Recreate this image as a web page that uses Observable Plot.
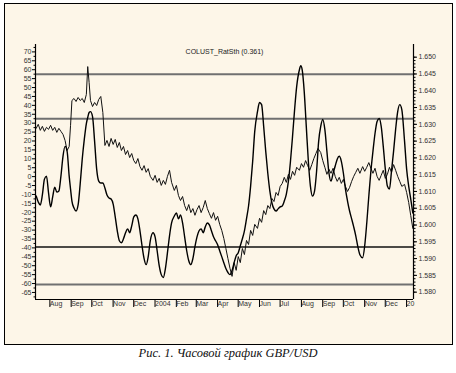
<!DOCTYPE html>
<html><head><meta charset="utf-8">
<script src="https://cdn.jsdelivr.net/npm/d3@7"></script>
<script src="https://cdn.jsdelivr.net/npm/@observablehq/plot@0.6"></script>
<style>
html,body{margin:0;padding:0;background:#fff;}
#wrap{position:relative;width:456px;height:373px;overflow:hidden;}
#frame{position:absolute;left:4px;top:3px;width:449px;height:342px;border:1.5px solid #000;background:#fdf6e8;box-sizing:border-box;}
#chart{position:absolute;left:0;top:0;}
#caption{position:absolute;left:0;width:456px;top:346px;text-align:center;font:italic 12.5px "Liberation Serif","DejaVu Serif",serif;color:#111;}
</style></head>
<body>
<div id="wrap"><div id="frame"></div><div id="chart"></div><div id="caption"></div></div>
<script>
const titleText = "COLUST_RatSth (0.361)";
const captionText = "Рис. 1. Часовой график GBP/USD";

// GBP/USD price (right axis)
const price = [
["2003-07-15",1.6288],["2003-07-18",1.6300],["2003-07-21",1.6282],["2003-07-24",1.6294],["2003-07-27",1.6279],["2003-07-30",1.6291],
["2003-08-02",1.6285],["2003-08-05",1.6297],["2003-08-08",1.6282],["2003-08-11",1.6291],["2003-08-14",1.6276],["2003-08-17",1.6288],["2003-08-20",1.6279],["2003-08-23",1.6270],["2003-08-26",1.6252],["2003-08-29",1.6222],
["2003-09-01",1.6234],["2003-09-03",1.6297],["2003-09-05",1.6371],["2003-09-08",1.6377],["2003-09-11",1.6368],["2003-09-14",1.6380],["2003-09-17",1.6371],["2003-09-20",1.6377],["2003-09-23",1.6365],["2003-09-26",1.6389],["2003-09-28",1.6472],["2003-09-30",1.6425],
["2003-10-02",1.6371],["2003-10-05",1.6353],["2003-10-08",1.6365],["2003-10-11",1.6356],["2003-10-14",1.6374],["2003-10-17",1.6383],["2003-10-20",1.6335],["2003-10-23",1.6237],["2003-10-26",1.6252],["2003-10-29",1.6234],
["2003-11-01",1.6258],["2003-11-04",1.6240],["2003-11-07",1.6255],["2003-11-10",1.6231],["2003-11-13",1.6246],["2003-11-16",1.6222],["2003-11-19",1.6234],["2003-11-22",1.6210],["2003-11-25",1.6222],["2003-11-28",1.6201],
["2003-12-01",1.6213],["2003-12-04",1.6192],["2003-12-07",1.6183],["2003-12-10",1.6198],["2003-12-13",1.6174],["2003-12-16",1.6163],["2003-12-19",1.6177],["2003-12-22",1.6157],["2003-12-25",1.6168],["2003-12-28",1.6145],
["2004-01-01",1.6133],["2004-01-04",1.6148],["2004-01-07",1.6127],["2004-01-10",1.6139],["2004-01-13",1.6118],["2004-01-16",1.6133],["2004-01-19",1.6121],["2004-01-22",1.6145],["2004-01-25",1.6163],["2004-01-28",1.6127],
["2004-02-01",1.6103],["2004-02-04",1.6118],["2004-02-07",1.6088],["2004-02-10",1.6073],["2004-02-13",1.6085],["2004-02-16",1.6058],["2004-02-19",1.6043],["2004-02-22",1.6061],["2004-02-25",1.6037],["2004-02-28",1.6049],
["2004-03-02",1.6029],["2004-03-05",1.6046],["2004-03-08",1.6058],["2004-03-11",1.6037],["2004-03-14",1.6052],["2004-03-17",1.6073],["2004-03-20",1.6049],["2004-03-23",1.6034],["2004-03-26",1.6020],["2004-03-29",1.6037],
["2004-04-01",1.6014],["2004-04-04",1.6026],["2004-04-07",1.6002],["2004-04-10",1.5984],["2004-04-13",1.5960],["2004-04-16",1.5930],["2004-04-19",1.5900],["2004-04-22",1.5871],["2004-04-25",1.5847],["2004-04-28",1.5888],
["2004-05-01",1.5865],["2004-05-04",1.5906],["2004-05-07",1.5888],["2004-05-10",1.5930],["2004-05-13",1.5912],["2004-05-16",1.5954],["2004-05-19",1.5942],["2004-05-22",1.5984],["2004-05-25",1.5969],["2004-05-28",1.6002],
["2004-06-01",1.5990],["2004-06-04",1.6020],["2004-06-07",1.6008],["2004-06-10",1.6043],["2004-06-13",1.6031],["2004-06-16",1.6058],["2004-06-19",1.6049],["2004-06-22",1.6079],["2004-06-25",1.6070],["2004-06-28",1.6097],
["2004-07-01",1.6088],["2004-07-04",1.6115],["2004-07-07",1.6124],["2004-07-10",1.6142],["2004-07-13",1.6127],["2004-07-16",1.6151],["2004-07-19",1.6136],["2004-07-22",1.6160],["2004-07-25",1.6148],["2004-07-28",1.6172],
["2004-08-01",1.6163],["2004-08-04",1.6183],["2004-08-07",1.6172],["2004-08-10",1.6192],["2004-08-13",1.6177],["2004-08-16",1.6163],["2004-08-19",1.6180],["2004-08-22",1.6198],["2004-08-25",1.6213],["2004-08-28",1.6228],
["2004-09-01",1.6216],["2004-09-04",1.6192],["2004-09-07",1.6172],["2004-09-10",1.6151],["2004-09-13",1.6166],["2004-09-16",1.6154],["2004-09-19",1.6169],["2004-09-22",1.6145],["2004-09-25",1.6130],["2004-09-28",1.6142],
["2004-10-01",1.6124],["2004-10-04",1.6136],["2004-10-07",1.6115],["2004-10-10",1.6100],["2004-10-13",1.6112],["2004-10-16",1.6130],["2004-10-19",1.6145],["2004-10-22",1.6157],["2004-10-25",1.6169],["2004-10-28",1.6154],
["2004-11-01",1.6174],["2004-11-04",1.6160],["2004-11-07",1.6172],["2004-11-10",1.6186],["2004-11-13",1.6169],["2004-11-16",1.6154],["2004-11-19",1.6169],["2004-11-22",1.6145],["2004-11-25",1.6133],["2004-11-28",1.6148],
["2004-12-01",1.6163],["2004-12-04",1.6139],["2004-12-07",1.6151],["2004-12-10",1.6172],["2004-12-13",1.6157],["2004-12-16",1.6180],["2004-12-19",1.6163],["2004-12-22",1.6145],["2004-12-25",1.6130],["2004-12-28",1.6115],
["2005-01-01",1.6121],["2005-01-04",1.6097],["2005-01-07",1.6067],["2005-01-10",1.6028],["2005-01-13",1.5990]
];

// Oscillator (left axis)
const osc = [
["2003-07-15",-10.9],["2003-07-18",-14.2],["2003-07-21",-15.9],["2003-07-24",-10.3],["2003-07-27",-1.4],["2003-07-30",0.3],
["2003-08-02",-9.2],["2003-08-05",-17.0],["2003-08-08",-11.4],["2003-08-11",-5.9],["2003-08-14",-8.7],["2003-08-17",-8.1],["2003-08-20",0.3],["2003-08-23",11.4],["2003-08-26",17.0],["2003-08-29",14.2],
["2003-09-01",0.3],["2003-09-03",-7.0],["2003-09-05",-13.7],["2003-09-08",-17.6],["2003-09-11",-19.3],["2003-09-14",-15.9],["2003-09-17",-4.2],["2003-09-20",9.8],["2003-09-23",20.9],["2003-09-26",29.8],["2003-09-28",33.2],["2003-09-30",36.0],
["2003-10-02",36.5],["2003-10-05",33.7],["2003-10-08",19.8],["2003-10-11",4.2],["2003-10-14",-2.5],["2003-10-17",-3.6],["2003-10-20",-3.6],["2003-10-23",-6.4],["2003-10-26",-10.3],["2003-10-29",-12.0],
["2003-11-01",-12.6],["2003-11-04",-15.4],["2003-11-07",-22.6],["2003-11-10",-30.4],["2003-11-13",-36.0],["2003-11-16",-37.1],["2003-11-19",-34.9],["2003-11-22",-31.5],["2003-11-25",-29.3],["2003-11-28",-31.5],
["2003-12-01",-27.6],["2003-12-04",-22.6],["2003-12-07",-21.5],["2003-12-10",-23.7],["2003-12-13",-30.4],["2003-12-16",-38.8],["2003-12-19",-46.0],["2003-12-22",-49.4],["2003-12-25",-44.9],["2003-12-28",-36.0],
["2004-01-01",-31.5],["2004-01-04",-33.8],["2004-01-07",-41.6],["2004-01-10",-49.9],["2004-01-13",-55.0],["2004-01-16",-56.6],["2004-01-19",-51.6],["2004-01-22",-42.7],["2004-01-25",-33.2],["2004-01-28",-26.0],
["2004-02-01",-22.1],["2004-02-04",-20.4],["2004-02-07",-23.7],["2004-02-10",-21.5],["2004-02-13",-26.0],["2004-02-16",-33.8],["2004-02-19",-41.6],["2004-02-22",-47.2],["2004-02-25",-49.4],["2004-02-28",-46.0],
["2004-03-02",-39.3],["2004-03-05",-33.8],["2004-03-08",-30.4],["2004-03-11",-29.3],["2004-03-14",-31.5],["2004-03-17",-28.2],["2004-03-20",-26.0],["2004-03-23",-27.1],["2004-03-26",-30.4],["2004-03-29",-33.8],
["2004-04-01",-36.0],["2004-04-04",-38.2],["2004-04-07",-41.6],["2004-04-10",-44.9],["2004-04-13",-48.3],["2004-04-16",-51.6],["2004-04-19",-53.8],["2004-04-22",-55.0],["2004-04-25",-52.7],["2004-04-28",-48.3],
["2004-05-01",-44.4],["2004-05-04",-42.7],["2004-05-07",-38.8],["2004-05-10",-34.9],["2004-05-13",-30.4],["2004-05-16",-23.7],["2004-05-19",-16.5],["2004-05-22",-5.3],["2004-05-25",8.6],["2004-05-28",25.4],
["2004-06-01",36.5],["2004-06-04",41.6],["2004-06-07",40.4],["2004-06-10",28.2],["2004-06-13",14.2],["2004-06-16",1.9],["2004-06-19",-8.1],["2004-06-22",-14.8],["2004-06-25",-18.1],["2004-06-28",-19.3],
["2004-07-01",-18.1],["2004-07-04",-17.0],["2004-07-07",-16.5],["2004-07-10",-13.7],["2004-07-13",-9.8],["2004-07-16",-2.5],["2004-07-19",8.6],["2004-07-22",22.6],["2004-07-25",37.6],["2004-07-28",50.5],
["2004-08-01",60.0],["2004-08-03",62.2],["2004-08-05",60.0],["2004-08-08",47.7],["2004-08-11",28.2],["2004-08-14",8.6],["2004-08-17",-5.3],["2004-08-20",-10.9],["2004-08-23",-8.1],["2004-08-26",3.1],["2004-08-29",19.8],
["2004-09-01",28.2],["2004-09-04",32.1],["2004-09-07",26.5],["2004-09-10",14.2],["2004-09-13",1.9],["2004-09-16",-2.5],["2004-09-19",1.9],["2004-09-22",5.8],["2004-09-25",9.8],["2004-09-28",11.4],
["2004-10-01",8.6],["2004-10-04",1.9],["2004-10-07",-7.0],["2004-10-10",-13.7],["2004-10-13",-19.3],["2004-10-16",-23.7],["2004-10-19",-28.2],["2004-10-22",-33.2],["2004-10-25",-39.3],["2004-10-28",-43.8],
["2004-11-01",-45.5],["2004-11-04",-38.8],["2004-11-07",-26.0],["2004-11-10",-10.9],["2004-11-13",3.1],["2004-11-16",14.2],["2004-11-19",24.2],["2004-11-22",30.9],["2004-11-25",32.6],["2004-11-28",28.2],
["2004-12-01",17.0],["2004-12-04",4.2],["2004-12-07",-5.3],["2004-12-10",-7.0],["2004-12-13",3.1],["2004-12-16",14.2],["2004-12-19",26.5],["2004-12-22",36.5],["2004-12-25",40.4],["2004-12-28",37.6],
["2005-01-01",19.8],["2005-01-04",4.2],["2005-01-07",-5.3],["2005-01-10",-12.6],["2005-01-13",-20.4]
];

const grayLevels = [57.5, 32.5, -60.5];
const blackLevels = [-39.5];
const leftTicks = [70,65,60,55,50,45,40,35,30,25,20,15,10,5,0,-5,-10,-15,-20,-25,-30,-35,-40,-45,-50,-55,-60,-65];
const rightTicks = [1.650,1.645,1.640,1.635,1.630,1.625,1.620,1.615,1.610,1.605,1.600,1.595,1.590,1.585,1.580];
const monthTickDates = ["2003-08-01","2003-09-01","2003-10-01","2003-11-01","2003-12-01","2004-01-01","2004-02-01","2004-03-01","2004-04-01","2004-05-01","2004-06-01","2004-07-01","2004-08-01","2004-09-01","2004-10-01","2004-11-01","2004-12-01","2005-01-01"];
const monthTickLabels = ["Aug","Sep","Oct","Nov","Dec","2004","Feb","Mar","Apr","May","Jun","Jul","Aug","Sep","Oct","Nov","Dec","20"];

// price -> oscillator-axis units (both axes share the plot's height)
const toV = p => 67.03 - (1.650 - p) * 1883.8;
const fromV = v => 1.650 - (67.03 - v) / 1883.8;

const priceRows = price.map(([d, p]) => ({date: new Date(d), v: toV(p)}));
const oscRows = osc.map(([d, v]) => ({date: new Date(d), v}));
const tickDates = monthTickDates.map(d => new Date(d));
const labelMap = new Map(tickDates.map((d, i) => [+d, monthTickLabels[i]]));
const minorLeft = d3.range(-67.5, 72.6, 2.5).filter(v => !leftTicks.includes(v));
const minorRight = d3.range(1.580, 1.6505, 0.001).map(toV);
const xStart = new Date("2003-07-14"), xEnd = new Date("2005-01-14");

const chart = Plot.plot({
  width: 456, height: 345,
  marginLeft: 35, marginRight: 43, marginTop: 44, marginBottom: 46,
  style: {fontFamily: "'Liberation Sans', Arial, sans-serif", fontSize: "7px", background: "transparent", color: "#333"},
  x: {type: "utc", domain: [xStart, xEnd], axis: null},
  y: {domain: [-68.96, 74.15], axis: null},
  marks: [
    Plot.ruleY(grayLevels, {stroke: "#707070", strokeWidth: 2}),
    Plot.ruleY(blackLevels, {stroke: "#111", strokeWidth: 1.6}),
    Plot.line(priceRows, {x: "date", y: "v", stroke: "#111", strokeWidth: 1}),
    Plot.line(oscRows, {x: "date", y: "v", stroke: "#000", strokeWidth: 1.4, curve: "monotone-x"}),
    Plot.axisY(leftTicks, {anchor: "left", label: null, tickSize: 3, tickPadding: 1, tickFormat: d => String(d), stroke: "#000"}),
    Plot.axisY(minorLeft, {anchor: "left", label: null, tickSize: 1.5, tickFormat: () => "", stroke: "#000"}),
    Plot.axisY(rightTicks.map(toV), {anchor: "right", label: null, tickSize: 3, tickPadding: 2, tickFormat: v => fromV(v).toFixed(3), stroke: "#000"}),
    Plot.axisY(minorRight, {anchor: "right", label: null, tickSize: 1.5, tickFormat: () => "", stroke: "#000"}),
    Plot.axisX(tickDates, {anchor: "bottom", label: null, tickSize: 8, tickPadding: -6, textAnchor: "start", dx: 2, tickFormat: d => labelMap.get(+d), stroke: "#000"}),
    Plot.ruleX([xStart, xEnd], {stroke: "#000", strokeWidth: 1.2}),
    Plot.ruleY([-68.96], {stroke: "#000", strokeWidth: 1.2}),
    Plot.text([titleText], {text: d => d, frameAnchor: "top", dy: 5, fontSize: 7, fill: "#222"})
  ]
});
document.getElementById("chart").appendChild(chart);
document.getElementById("caption").textContent = captionText;
</script>
</body></html>
